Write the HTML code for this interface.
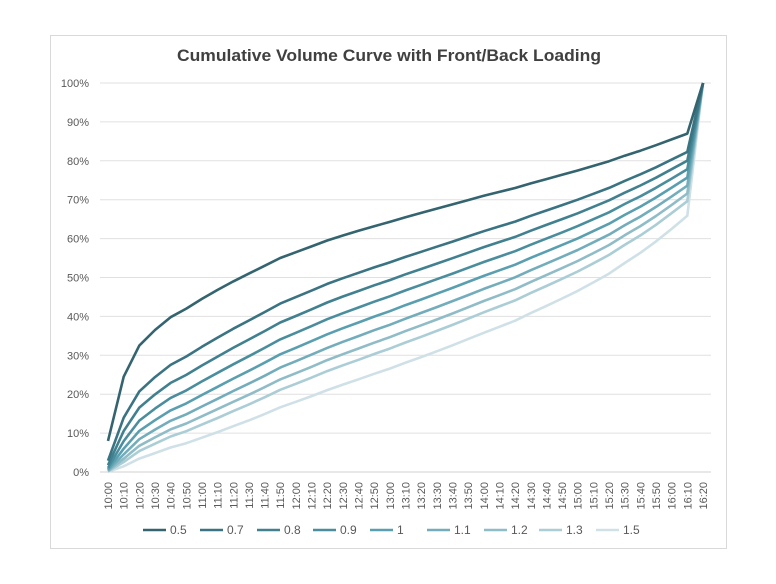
<!DOCTYPE html>
<html><head><meta charset="utf-8"><style>
html,body{margin:0;padding:0;background:#fff;}
svg{display:block;font-family:"Liberation Sans",sans-serif;}
</style></head><body>
<svg id="s" width="776" height="584" xmlns="http://www.w3.org/2000/svg">
<rect x="0" y="0" width="776" height="584" fill="#fff"/>
<rect x="50.5" y="35.5" width="676" height="513" fill="#fff" stroke="#d9d9d9"/>
<text x="389" y="61" text-anchor="middle" font-size="17" font-weight="bold" fill="#404040" textLength="424" lengthAdjust="spacingAndGlyphs">Cumulative Volume Curve with Front/Back Loading</text>
<g id="g"></g>
</svg>
<script>
const NS="http://www.w3.org/2000/svg",g=document.getElementById('g');
function el(t,a,txt){const e=document.createElementNS(NS,t);for(const k in a)e.setAttribute(k,a[k]);if(txt!=null)e.textContent=txt;g.appendChild(e);return e;}
const y0=472,dy=3.89,x0=108,dx=(703-108)/38;
for(let i=0;i<=10;i++){const y=y0-i*10*dy;
 el('line',{x1:100,x2:711,y1:y,y2:y,stroke:i==0?'#d0d0d0':'#e0e0e0','stroke-width':1});
 el('text',{x:89,y:y+4,'text-anchor':'end','font-size':11,fill:'#595959'},(i*10)+'%');}
const v5=[8,24.5,32.5,36.5,39.8,42,44.5,46.8,49,51,53,55,56.5,58,59.5,60.8,62,63.2,64.3,65.5,66.6,67.7,68.8,69.9,71,72,73,74.2,75.3,76.4,77.5,78.7,79.9,81.3,82.6,84,85.5,87,100];
const base=v5.map(v=>Math.pow(v/100,2));
const ps=[0.5,0.7,0.8,0.9,1,1.1,1.2,1.3,1.5];
const cols=['#33646f','#3a7382','#41808f','#4a8e9d','#5a9fb0','#73adbb','#8fbcc7','#abcdd5','#cfe1e7'];
for(let k=ps.length-1;k>=0;k--){let d='';
 base.forEach((b,i)=>{const v=Math.pow(b,ps[k])*100;d+=(i?'L':'M')+(x0+i*dx).toFixed(1)+' '+(y0-v*dy).toFixed(1);});
 el('path',{d:d,fill:'none',stroke:cols[k],'stroke-width':2.6,'stroke-linejoin':'round'});}
for(let i=0;i<39;i++){const m=600+i*10,h=Math.floor(m/60),mm=m%60;
 const t=h+':'+(mm<10?'0':'')+mm,x=x0+i*dx+4;
 el('text',{x:x,y:482,'text-anchor':'end','font-size':11,fill:'#595959',transform:'rotate(-90 '+x+' 482)'},t);}
const tx=[170,227,284,340,397,454,511,566,623];
ps.forEach((p,k)=>{el('line',{x1:tx[k]-27,x2:tx[k]-4,y1:530,y2:530,stroke:cols[k],'stroke-width':2.6});
 el('text',{x:tx[k],y:534,'font-size':12,fill:'#595959'},String(p));});
</script>
</body></html>
